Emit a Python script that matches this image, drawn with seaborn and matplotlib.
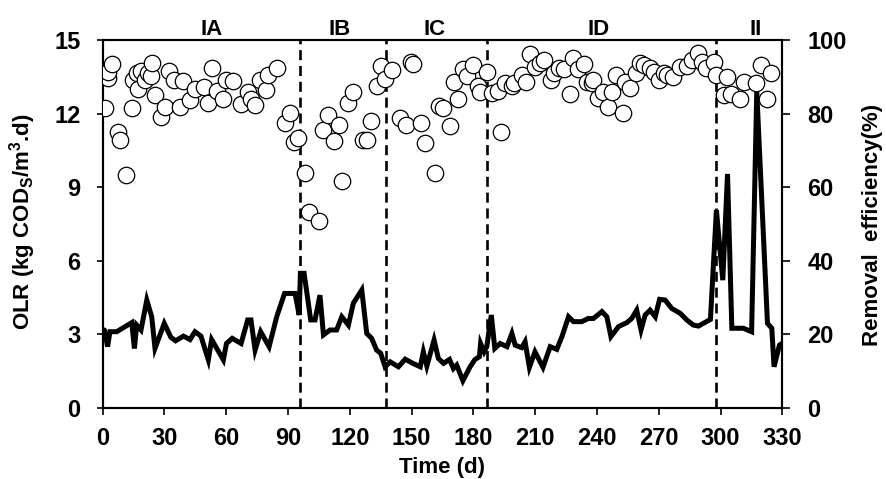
import matplotlib
matplotlib.use("Agg")
import matplotlib.pyplot as plt
import matplotlib.transforms as mtransforms
import seaborn as sns
import pandas as pd

# ---------------- data ----------------
olr_day = [0.8, 2.4, 3.5, 6.8, 14.1, 15.4, 16.5, 18.6, 21.4, 23.8, 25.4, 29.9, 33.1, 35.4,
           39.2, 42.4, 44.8, 47.7, 51.3, 52.9, 58.6, 60.1, 62.9, 67.2, 70.4, 72.0, 74.0,
           76.7, 80.8, 84.5, 88.3, 93.4, 95.4, 96.0, 97.8, 101.0, 103.1, 105.5, 107.2,
           110.4, 113.6, 116.1, 119.3, 121.7, 125.8, 128.2, 130.6, 133.0, 135.0, 137.1,
           139.6, 143.6, 146.9, 150.6, 154.2, 155.7, 157.4, 160.9, 163.0, 165.5, 168.4,
           170.3, 171.9, 174.9, 178.4, 180.8, 182.9, 183.5, 185.2, 186.5, 188.7, 190.4,
           193.0, 196.3, 198.7, 200.3, 203.5, 205.1, 207.2, 209.9, 213.8, 217.3, 220.5,
           223.0, 226.2, 228.6, 232.6, 235.8, 238.3, 242.4, 244.8, 246.8, 250.5, 254.5,
           256.9, 259.3, 261.4, 263.4, 265.8, 268.3, 270.4, 273.1, 276.3, 280.4, 283.6,
           286.8, 289.3, 295.1, 298.0, 301.1, 303.4, 305.5, 311.1, 315.1, 317.6, 322.8,
           324.9, 326.0, 328.6, 329.8]
olr_val = [3.18, 2.50, 3.11, 3.11, 3.48, 2.43, 3.38, 3.18, 4.40, 3.72, 2.43, 3.45, 2.88, 2.74,
           2.93, 2.79, 3.11, 2.93, 1.96, 2.79, 1.96, 2.63, 2.84, 2.63, 3.59, 3.59, 2.36,
           3.11, 2.50, 3.72, 4.67, 4.67, 3.79, 5.49, 5.49, 3.59, 3.59, 4.60, 2.98,
           3.18, 3.18, 3.72, 3.38, 4.27, 4.81, 3.04, 2.84, 2.36, 2.23, 1.68,
           1.88, 1.68, 1.99, 1.82, 1.68, 2.29, 1.71, 2.77, 2.02, 1.82, 1.98,
           1.61, 1.75, 1.11, 1.68, 1.98, 2.09, 2.63, 2.29, 2.50, 3.79, 2.43,
           2.63, 2.50, 3.04, 2.56, 2.46, 2.70, 1.66, 2.29, 1.66, 2.50, 2.39,
           2.91, 3.72, 3.52, 3.52, 3.65, 3.65, 3.93, 3.72, 2.91, 3.32, 3.48,
           3.65, 3.99, 3.18, 3.79, 3.99, 3.72, 4.43, 4.40, 4.06, 3.86, 3.59,
           3.38, 3.34, 3.61, 8.07, 5.21, 9.54, 3.25, 3.25, 3.11, 12.90, 3.45,
           3.25, 1.68, 2.56, 2.63]

re_day = [1.1, 2.4, 2.7, 4.3, 7.2, 8.4, 11.3, 14.4, 14.9, 16.5, 17.3, 18.6, 20.6, 22.2, 23.5,
          24.1, 25.4, 28.1, 30.2, 32.2, 34.8, 37.5, 39.2, 42.4, 44.8, 49.4, 51.3, 53.2, 55.3,
          58.2, 60.1, 63.5, 67.2, 70.4, 72.0, 74.0, 76.4, 79.1, 80.4, 84.5, 88.3, 91.0, 93.1,
          95.0, 98.3, 100.4, 105.2, 107.1, 109.2, 112.3, 114.5, 116.4, 119.3, 121.4, 126.3,
          128.2, 130.3, 133.0, 135.0, 137.1, 140.4, 144.5, 147.3, 149.6, 150.6, 154.4, 156.5,
          161.4, 163.3, 165.4, 168.4, 170.7, 172.7, 174.9, 177.1, 179.6, 182.4, 183.2, 186.4,
          188.8, 192.0, 193.3, 195.4, 198.7, 199.8, 203.5, 205.4, 207.5, 209.9, 212.4, 214.4,
          217.7, 218.9, 221.4, 224.1, 226.7, 228.3, 230.6, 233.5, 235.1, 237.5, 238.3, 240.4,
          243.0, 245.2, 247.3, 249.4, 252.6, 253.7, 256.2, 259.1, 261.0, 263.0, 266.0, 267.6,
          270.0, 272.4, 274.0, 276.9, 280.1, 283.7, 286.1, 289.0, 291.0, 293.1, 296.6, 297.9,
          301.5, 303.3, 304.9, 309.5, 311.4, 317.3, 319.6, 322.5, 324.5]
re_val = [81.4, 89.6, 91.4, 93.4, 75.1, 72.8, 63.3, 81.4, 89.1, 90.9, 86.6, 91.7, 89.1, 90.9, 90.3,
          93.8, 85.1, 79.2, 81.9, 91.7, 89.1, 81.7, 88.9, 83.7, 86.6, 87.1, 82.8, 92.3, 86.2,
          84.1, 89.1, 88.9, 82.6, 85.9, 84.1, 82.3, 89.1, 86.4, 90.5, 92.3, 77.5, 80.2, 72.2,
          73.3, 63.8, 53.3, 50.9, 75.5, 79.5, 72.5, 76.9, 61.8, 82.8, 85.8, 72.8,
          72.8, 78.1, 87.5, 93.0, 89.4, 91.8, 78.9, 77.0, 93.9, 93.6, 77.4, 71.9,
          63.8, 82.1, 81.6, 76.7, 88.5, 84.0, 92.0, 90.2, 93.2, 87.5, 86.0, 91.3,
          85.5, 86.1, 75.1, 88.2, 87.5, 88.2, 90.5, 88.5, 96.2, 92.6, 93.7, 94.6,
          89.1, 91.1, 92.3, 92.0, 85.2, 95.0, 92.0, 93.4, 88.7, 88.2, 89.1, 84.3,
          86.0, 81.9, 86.0, 90.5, 80.2, 88.7, 86.9, 91.1, 93.7, 93.2, 92.3, 91.4,
          89.1, 90.9, 90.5, 90.0, 92.6, 92.8, 94.6, 96.5, 94.0, 92.3, 94.1, 90.5,
          85.1, 90.0, 85.3, 84.1, 88.5, 88.2, 93.2, 83.9, 91.0]

phase_bounds = [96.0, 137.5, 186.5, 298.0]
phase_names = ["IA", "IB", "IC", "ID", "II"]
phase_label_x = [53, 115, 161, 241, 317]

x_ticks = list(range(0, 331, 30))
olr_ticks = [0, 3, 6, 9, 12, 15]
re_ticks = [0, 20, 40, 60, 80, 100]

# ---------------- style ----------------
sns.set_theme(style="white")
FONT = "Liberation Sans"
plt.rcParams["font.family"] = [FONT, "DejaVu Sans"]
plt.rcParams["font.weight"] = "bold"
plt.rcParams["mathtext.fontset"] = "custom"
plt.rcParams["mathtext.rm"] = FONT + ":bold"
plt.rcParams["mathtext.it"] = FONT + ":bold"
plt.rcParams["mathtext.bf"] = FONT + ":bold"
for k in ("text.color", "axes.labelcolor", "xtick.color", "ytick.color", "axes.edgecolor"):
    plt.rcParams[k] = "black"

W, H = 887, 479
fig = plt.figure(figsize=(W / 100, H / 100), dpi=100)
left, right, top, bottom = 102.7, 782.3, 40.0, 408.0
ax = fig.add_axes([left / W, (H - bottom) / H, (right - left) / W, (bottom - top) / H])
ax2 = ax.twinx()

df_olr = pd.DataFrame({"day": olr_day, "olr": olr_val})
df_re = pd.DataFrame({"day": re_day, "re": re_val})

sns.lineplot(data=df_olr, x="day", y="olr", ax=ax, color="black", linewidth=3.6,
             estimator=None, sort=False, solid_joinstyle="miter", zorder=2)

for b in phase_bounds:
    ax.axvline(b, color="black", linewidth=1.9, linestyle=(0, (3.8, 2.2)), zorder=1)

sns.scatterplot(data=df_re, x="day", y="re", ax=ax2, s=140, facecolor="white",
                edgecolor="black", linewidth=0.9, zorder=3)

ax.set_xlim(0, 330)
ax.set_ylim(0, 15)
ax2.set_ylim(0, 100)
ax.set_xticks(x_ticks)
ax.set_yticks(olr_ticks)
ax2.set_yticks(re_ticks)

fs = 17
for a in (ax, ax2):
    for s in a.spines.values():
        s.set_linewidth(1.5)
        s.set_color("black")
        s.set_visible(True)
ax.tick_params(axis="x", direction="out", length=5, width=1.2, labelsize=fs, pad=9, bottom=True)
ax.tick_params(axis="y", direction="out", length=4, width=1.2, labelsize=fs, pad=12, left=True)
ax2.tick_params(axis="y", direction="out", length=6, width=1.2, labelsize=fs, pad=12, right=True)
for lab in ax.get_xticklabels() + ax.get_yticklabels() + ax2.get_yticklabels():
    lab.set_fontweight("bold")

ax.set_xlabel("")
ax.set_ylabel("")
ax2.set_ylabel("")
lab_fs = 16
fig.text(442 / W, 1 - 468 / H, "Time (d)", ha="center", va="center",
         fontsize=lab_fs, fontweight="bold")
fig.text(23 / W, 1 - 222 / H, r"OLR (kg COD$_{S}$/m$^{3}$.d)", ha="center", va="center",
         rotation=90, fontsize=lab_fs, fontweight="bold")
fig.text(873 / W, 1 - 225 / H, "Removal  efficiency(%)", ha="center", va="center",
         rotation=90, fontsize=lab_fs, fontweight="bold")

trans = mtransforms.blended_transform_factory(ax.transData, ax.transAxes)
for name, xp in zip(phase_names, phase_label_x):
    ax.text(xp, 1.0136, name, transform=trans, ha="center", va="baseline",
            fontsize=lab_fs, fontweight="bold")

fig.savefig("out.png", dpi=100)
